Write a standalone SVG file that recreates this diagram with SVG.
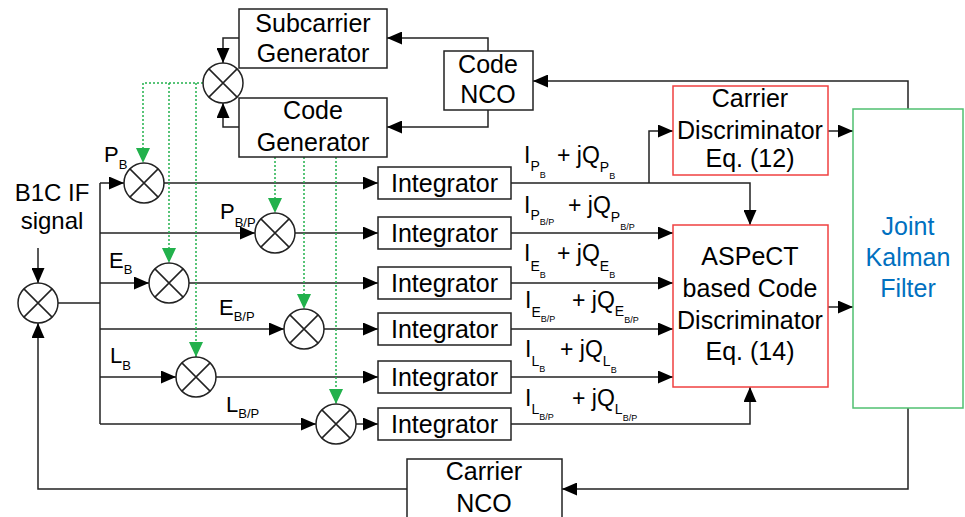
<svg xmlns="http://www.w3.org/2000/svg" width="965" height="517" viewBox="0 0 965 517">
<style>
text{font-family:"Liberation Sans",Arial,sans-serif;fill:#000}
.box{fill:#fff;stroke:#222;stroke-width:1.5}
.red{fill:#fff;stroke:#f04040;stroke-width:1.5}
.grn{fill:#fff;stroke:#50c070;stroke-width:1.5}
.t25{font-size:25px;text-anchor:middle}
.t24{font-size:24px;text-anchor:middle}
.blue{fill:#0070c0}
.wire{fill:none;stroke:#222;stroke-width:1.5}
.dot{fill:none;stroke:#22b14c;stroke-width:1.5;stroke-dasharray:2 2}
.mx{fill:#fff;stroke:#222;stroke-width:1.5}
.lb{font-size:22px}
.ls{font-size:13px}
.iq{font-size:23px}
.s1{font-size:14px}
.s2{font-size:9px}
</style>
<defs>
<marker id="ah" markerUnits="userSpaceOnUse" markerWidth="15" markerHeight="13" refX="15" refY="6.5" orient="auto"><path d="M0,0L15,6.5L0,13z" fill="#000"/></marker>
<marker id="ag" markerUnits="userSpaceOnUse" markerWidth="15" markerHeight="14" refX="15" refY="7" orient="auto"><path d="M0,0L15,7L0,14z" fill="#22b14c"/></marker>
<g id="mixer"><circle r="20" class="mx"/><path d="M-14.1,-14.1L14.1,14.1M14.1,-14.1L-14.1,14.1" class="wire"/></g>
</defs>

<g id="connectors">
<path class="wire" d="M38,248V283" marker-end="url(#ah)"/>
<path class="wire" d="M58,303H100"/>
<path class="wire" d="M100,183V424"/>
<path class="wire" d="M100,183H124" marker-end="url(#ah)"/>
<path class="wire" d="M100,233H255" marker-end="url(#ah)"/>
<path class="wire" d="M100,283H149" marker-end="url(#ah)"/>
<path class="wire" d="M100,329H284" marker-end="url(#ah)"/>
<path class="wire" d="M100,377H176" marker-end="url(#ah)"/>
<path class="wire" d="M100,424H316" marker-end="url(#ah)"/>
<path class="wire" d="M164,183H378" marker-end="url(#ah)"/>
<path class="wire" d="M295,233H378" marker-end="url(#ah)"/>
<path class="wire" d="M189,283H378" marker-end="url(#ah)"/>
<path class="wire" d="M324,329H378" marker-end="url(#ah)"/>
<path class="wire" d="M216,377H378" marker-end="url(#ah)"/>
<path class="wire" d="M356,424H378" marker-end="url(#ah)"/>
<path class="wire" d="M511,183H750V225" marker-end="url(#ah)"/>
<path class="wire" d="M649,183V131H673" marker-end="url(#ah)"/>
<path class="wire" d="M511,233H673" marker-end="url(#ah)"/>
<path class="wire" d="M511,283H673" marker-end="url(#ah)"/>
<path class="wire" d="M511,329H673" marker-end="url(#ah)"/>
<path class="wire" d="M511,377H673" marker-end="url(#ah)"/>
<path class="wire" d="M511,424H750V387" marker-end="url(#ah)"/>
<path class="wire" d="M828,131H853" marker-end="url(#ah)"/>
<path class="wire" d="M828,307H853" marker-end="url(#ah)"/>
<path class="wire" d="M908,109V81H533" marker-end="url(#ah)"/>
<path class="wire" d="M908,408V489H562" marker-end="url(#ah)"/>
<path class="wire" d="M407,489H38V323" marker-end="url(#ah)"/>
<path class="wire" d="M488,51V38H387" marker-end="url(#ah)"/>
<path class="wire" d="M488,110V127H387" marker-end="url(#ah)"/>
<path class="wire" d="M239,38H223V63" marker-end="url(#ah)"/>
<path class="wire" d="M239,127H223V103" marker-end="url(#ah)"/>
<path class="dot" d="M203,83H143V163" marker-end="url(#ag)"/>
<path class="dot" d="M169,83V263" marker-end="url(#ag)"/>
<path class="dot" d="M196,83V357" marker-end="url(#ag)"/>
<path class="dot" d="M275,157V213" marker-end="url(#ag)"/>
<path class="dot" d="M304,157V309" marker-end="url(#ag)"/>
<path class="dot" d="M336,157V404" marker-end="url(#ag)"/>
</g>

<g id="subcarrier-generator"><rect class="box" x="239" y="9" width="148" height="59"/><text class="t25" x="313" y="32">Subcarrier</text><text class="t25" x="313" y="62">Generator</text></g>
<g id="code-generator"><rect class="box" x="239" y="98" width="148" height="59"/><text class="t25" x="313" y="119">Code</text><text class="t25" x="313" y="151">Generator</text></g>
<g id="code-nco"><rect class="box" x="444" y="51" width="89" height="59"/><text class="t25" x="488" y="73">Code</text><text class="t25" x="488" y="103">NCO</text></g>
<g id="carrier-discriminator"><rect class="red" x="673" y="86" width="155" height="89"/><text class="t25" x="750" y="107">Carrier</text><text class="t25" x="750" y="139">Discriminator</text><text class="t25" x="750" y="167">Eq. (12)</text></g>
<g id="code-discriminator"><rect class="red" x="673" y="225" width="155" height="162"/><text class="t25" x="750" y="265">ASPeCT</text><text class="t25" x="750" y="297">based Code</text><text class="t25" x="750" y="329">Discriminator</text><text class="t25" x="750" y="360">Eq. (14)</text></g>
<g id="kalman-filter"><rect class="grn" x="853" y="109" width="110" height="299"/><text class="t25 blue" x="908" y="235">Joint</text><text class="t25 blue" x="908" y="266">Kalman</text><text class="t25 blue" x="908" y="297">Filter</text></g>
<g id="carrier-nco"><rect class="box" x="407" y="459" width="155" height="70"/><text class="t25" x="484" y="480">Carrier</text><text class="t25" x="484" y="512">NCO</text></g>

<g id="integrator-1"><rect class="box" x="378" y="167" width="133" height="32"/><text class="t25" x="444.5" y="192">Integrator</text></g>
<g id="integrator-2"><rect class="box" x="378" y="217" width="133" height="32"/><text class="t25" x="444.5" y="242">Integrator</text></g>
<g id="integrator-3"><rect class="box" x="378" y="267" width="133" height="32"/><text class="t25" x="444.5" y="292">Integrator</text></g>
<g id="integrator-4"><rect class="box" x="378" y="313" width="133" height="32"/><text class="t25" x="444.5" y="338">Integrator</text></g>
<g id="integrator-5"><rect class="box" x="378" y="361" width="133" height="32"/><text class="t25" x="444.5" y="386">Integrator</text></g>
<g id="integrator-6"><rect class="box" x="378" y="408" width="133" height="32"/><text class="t25" x="444.5" y="433">Integrator</text></g>

<g id="mixer-input"><use href="#mixer" x="38" y="303"/></g>
<g id="mixer-top"><use href="#mixer" x="223" y="83"/></g>
<g id="mixer-pb"><use href="#mixer" x="144" y="183"/></g>
<g id="mixer-pbp"><use href="#mixer" x="275" y="233"/></g>
<g id="mixer-eb"><use href="#mixer" x="169" y="283"/></g>
<g id="mixer-ebp"><use href="#mixer" x="304" y="329"/></g>
<g id="mixer-lb"><use href="#mixer" x="196" y="377"/></g>
<g id="mixer-lbp"><use href="#mixer" x="336" y="424"/></g>

<g id="labels">
<text class="t24" x="52" y="201">B1C IF</text>
<text class="t24" x="52" y="229">signal</text>
<text class="lb" x="104" y="162">P<tspan class="ls" y="169">B</tspan></text>
<text class="lb" x="220" y="219">P<tspan class="ls" y="227">B/P</tspan></text>
<text class="lb" x="109" y="268">E<tspan class="ls" y="274">B</tspan></text>
<text class="lb" x="219" y="315">E<tspan class="ls" y="321">B/P</tspan></text>
<text class="lb" x="110" y="363">L<tspan class="ls" y="370">B</tspan></text>
<text class="lb" x="226" y="412">L<tspan class="ls" y="418">B/P</tspan></text>

<text class="iq" x="524" y="163">I<tspan class="s1" y="171">P</tspan><tspan class="s2" y="178">B</tspan></text>
<text class="iq" x="557" y="163">+ jQ<tspan class="s1" y="172">P</tspan><tspan class="s2" y="179">B</tspan></text>
<text class="iq" x="524" y="213">I<tspan class="s1" y="220">P</tspan><tspan class="s2" y="225">B/P</tspan></text>
<text class="iq" x="568" y="213">+ jQ<tspan class="s1" y="222">P</tspan><tspan class="s2" y="230">B/P</tspan></text>
<text class="iq" x="524" y="261">I<tspan class="s1" y="271">E</tspan><tspan class="s2" y="278">B</tspan></text>
<text class="iq" x="557" y="261">+ jQ<tspan class="s1" y="271">E</tspan><tspan class="s2" y="278">B</tspan></text>
<text class="iq" x="525" y="308">I<tspan class="s1" y="317">E</tspan><tspan class="s2" y="322">B/P</tspan></text>
<text class="iq" x="572" y="308">+ jQ<tspan class="s1" y="316">E</tspan><tspan class="s2" y="323">B/P</tspan></text>
<text class="iq" x="525" y="357">I<tspan class="s1" y="366">L</tspan><tspan class="s2" y="372">B</tspan></text>
<text class="iq" x="560" y="357">+ jQ<tspan class="s1" y="366">L</tspan><tspan class="s2" y="373">B</tspan></text>
<text class="iq" x="525" y="406">I<tspan class="s1" y="414">L</tspan><tspan class="s2" y="420">B/P</tspan></text>
<text class="iq" x="572" y="406">+ jQ<tspan class="s1" y="414">L</tspan><tspan class="s2" y="421">B/P</tspan></text>
</g>
</svg>
